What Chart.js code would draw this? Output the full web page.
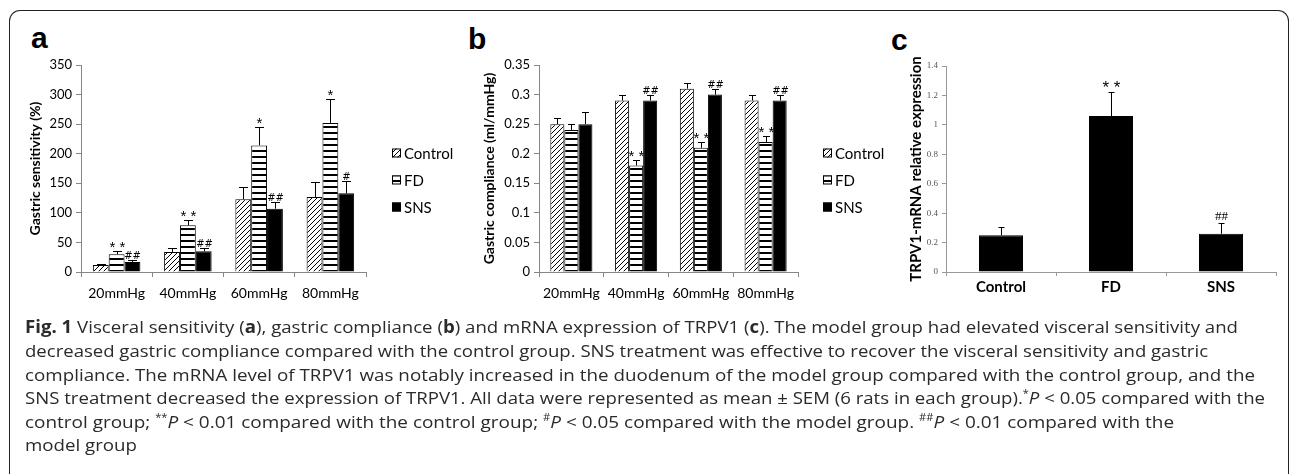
<!DOCTYPE html>
<html>
<head>
<meta charset="utf-8">
<script src="https://cdn.jsdelivr.net/npm/chart.js@4.4.0/dist/chart.umd.min.js"></script>
<style>
  html, body { margin: 0; padding: 0; background: #fff; }
  body { width: 1290px; height: 474px; position: relative; overflow: hidden; font-family: Lato, sans-serif; }
  #frame { position: absolute; left: 9px; top: 10px; width: 1280px; height: 520px; border: 1.5px solid #222; border-bottom: none; border-radius: 11px 11px 0 0; box-sizing: border-box; }
  canvas { position: absolute; top: 0; }
  .lbl { position: absolute; font: bold 30px "Liberation Sans", Arial, sans-serif; line-height: 30px; color: #000; }
  .cap { position: absolute; left: 25px; white-space: nowrap; font: 17px "Open Sans", sans-serif; line-height: 24px; color: #2a2a2a; transform-origin: 0 50%; }
  .cap sup { font-size: 10px; vertical-align: 0; position: relative; top: -7px; }
</style>
</head>
<body>
<div id="frame"></div>
<div class="lbl" style="left:31px;top:23px">a</div>
<div class="lbl" style="left:468px;top:24px">b</div>
<div class="lbl" style="left:891px;top:25px">c</div>

<canvas id="chartA" width="470" height="320" style="left:0"></canvas>
<canvas id="chartB" width="430" height="320" style="left:470px"></canvas>
<canvas id="chartC" width="390" height="320" style="left:900px"></canvas>

<div class="cap" data-w="1213" style="top:315px"><b>Fig. 1</b> Visceral sensitivity (<b>a</b>), gastric compliance (<b>b</b>) and mRNA expression of TRPV1 (<b>c</b>). The model group had elevated visceral sensitivity and</div>
<div class="cap" data-w="1183" style="top:339px">decreased gastric compliance compared with the control group. SNS treatment was effective to recover the visceral sensitivity and gastric</div>
<div class="cap" data-w="1230" style="top:363px">compliance. The mRNA level of TRPV1 was notably increased in the duodenum of the model group compared with the control group, and the</div>
<div class="cap" data-w="1240" style="top:386px">SNS treatment decreased the expression of TRPV1. All data were represented as mean ± SEM (6 rats in each group).<sup>*</sup><i>P</i> &lt; 0.05 compared with the</div>
<div class="cap" data-w="1149" style="top:410px">control group; <sup>**</sup><i>P</i> &lt; 0.01 compared with the control group; <sup>#</sup><i>P</i> &lt; 0.05 compared with the model group. <sup>##</sup><i>P</i> &lt; 0.01 compared with the</div>
<div class="cap" data-w="112" style="top:433px">model group</div>

<script>
// categories
const pressures = ['20mmHg', '40mmHg', '60mmHg', '80mmHg'];
const groups = ['Control', 'FD', 'SNS'];

// a: gastric sensitivity (%), mean and SEM
const sensCtrl = [12, 34, 123, 127];
const sensFd = [30, 79, 214, 252];
const sensSns = [17, 35, 107, 133];
const sensCtrlSem = [2, 6, 21, 25];
const sensFdSem = [5, 9, 31, 41];
const sensSnsSem = [3, 6, 12, 21];
const sensFdMarks = ['**', '**', '*', '*'];
const sensSnsMarks = ['##', '##', '##', '#'];

// b: gastric compliance (ml/mmHg)
const compCtrl = [0.25, 0.29, 0.31, 0.29];
const compFd = [0.24, 0.18, 0.21, 0.22];
const compSns = [0.25, 0.29, 0.30, 0.29];
const compCtrlSem = [0.01, 0.01, 0.01, 0.01];
const compFdSem = [0.01, 0.01, 0.01, 0.01];
const compSnsSem = [0.02, 0.01, 0.01, 0.01];
const compFdMarks = ['', '**', '**', '**'];
const compSnsMarks = ['', '##', '##', '##'];

// c: TRPV1 mRNA relative expression
const trpv1 = [0.25, 1.06, 0.26];
const trpv1Sem = [0.055, 0.165, 0.075];
const trpv1Marks = ['', '**', '##'];

const AXIS = '#868686';

// fill patterns
const makePattern = (kind) => {
  const c = document.createElement('canvas');
  const s = kind === 'diag' ? 5 : 6;
  c.width = s; c.height = s;
  const g = c.getContext('2d');
  g.fillStyle = '#fff';
  g.fillRect(0, 0, s, s);
  if (kind === 'diag') {
    g.strokeStyle = '#000';
    g.lineWidth = 1;
    g.beginPath();
    g.moveTo(-1, s + 1); g.lineTo(s + 1, -1);
    g.moveTo(-2, 2); g.lineTo(2, -2);
    g.moveTo(s - 2, s + 2); g.lineTo(s + 2, s - 2);
    g.stroke();
  } else {
    g.fillStyle = '#000';
    g.fillRect(0, 0, s, 2);
  }
  return g.createPattern(c, 'repeat');
};
const diagFill = makePattern('diag');
const stripeFill = makePattern('stripe');

// error bars (upper only) + significance marks
const errorBars = {
  id: 'errorBars',
  afterDatasetsDraw(chart, args, opts) {
    const { ctx } = chart;
    const yScale = chart.scales.y;
    chart.data.datasets.forEach((ds, i) => {
      const meta = chart.getDatasetMeta(i);
      meta.data.forEach((bar, j) => {
        const top = Math.round(yScale.getPixelForValue(ds.data[j] + ds.sem[j])) + 0.5;
        const x = Math.round(bar.x) + 0.5;
        ctx.save();
        ctx.strokeStyle = '#000';
        ctx.lineWidth = 1;
        ctx.beginPath();
        ctx.moveTo(x, bar.y);
        ctx.lineTo(x, top);
        ctx.moveTo(x - opts.cap, top);
        ctx.lineTo(x + opts.cap, top);
        ctx.stroke();
        const m = ds.marks && ds.marks[j];
        if (m) {
          ctx.fillStyle = '#000';
          ctx.textAlign = 'center';
          ctx.textBaseline = 'alphabetic';
          const star = m.includes('*');
          ctx.font = star ? opts.starFont : opts.hashFont;
          ctx.fillText(star ? m.split('').join(' ') : m, x, top - (star ? opts.starGap : opts.hashGap));
        }
        ctx.restore();
      });
    });
  }
};

// legend at the right of the plot
const sideLegend = {
  id: 'sideLegend',
  afterDraw(chart, args, opts) {
    if (!opts.ys) return;
    const { ctx } = chart;
    chart.data.datasets.forEach((ds, i) => {
      const yy = opts.ys[i];
      ctx.save();
      ctx.fillStyle = ds.backgroundColor;
      ctx.fillRect(opts.x, yy - 4.5, 9, 9);
      ctx.strokeStyle = '#000';
      ctx.lineWidth = 1;
      ctx.strokeRect(opts.x + 0.5, yy - 4, 8, 8);
      ctx.fillStyle = '#000';
      ctx.font = '15px Lato';
      ctx.textBaseline = 'middle';
      ctx.fillText(ds.label, opts.x + 12, yy + 1);
      ctx.restore();
    });
  }
};

const groupedChart = (id, opt) => new Chart(document.getElementById(id), {
  type: 'bar',
  data: {
    labels: pressures,
    datasets: [
      { label: groups[0], data: opt.ctrl, sem: opt.ctrlSem, backgroundColor: diagFill },
      { label: groups[1], data: opt.fd, sem: opt.fdSem, marks: opt.fdMarks, backgroundColor: stripeFill },
      { label: groups[2], data: opt.sns, sem: opt.snsSem, marks: opt.snsMarks, backgroundColor: '#000' }
    ].map(d => Object.assign(d, { borderColor: '#000', borderWidth: 1, categoryPercentage: opt.catPct, barPercentage: 1 }))
  },
  options: {
    responsive: false,
    animation: false,
    devicePixelRatio: 1,
    layout: { padding: { left: 0, top: 65, right: opt.padRight, bottom: 0 } },
    plugins: {
      legend: { display: false },
      tooltip: { enabled: false },
      errorBars: { cap: opt.cap, starGap: 0, hashGap: 2, starFont: '15px "Liberation Sans"', hashFont: 'italic 11px "DejaVu Sans Condensed", "DejaVu Sans"' },
      sideLegend: { x: opt.legendX, ys: [153, 180, 207] }
    },
    scales: {
      x: {
        grid: { offset: true, drawOnChartArea: false, tickLength: 5, color: AXIS },
        border: { color: AXIS },
        ticks: { font: { family: 'Lato', size: 14 }, color: '#000', padding: 8 },
        afterFit: s => { s.height = 48; }
      },
      y: {
        min: 0, max: opt.max,
        ticks: { stepSize: opt.step, font: { family: 'Lato', size: 13 }, color: '#000', padding: 4,
          callback: v => String(+v.toFixed(2)) },
        grid: { drawOnChartArea: false, tickLength: 5, color: AXIS },
        border: { color: AXIS },
        title: { display: true, text: opt.title, color: '#000',
          font: { family: 'Lato', size: opt.titleSize, weight: 'bold' }, padding: { top: opt.titlePad, bottom: 0 } },
        afterFit: s => { s.width = opt.axisW; }
      }
    }
  },
  plugins: [errorBars, sideLegend]
});

groupedChart('chartA', {
  ctrl: sensCtrl, fd: sensFd, sns: sensSns,
  ctrlSem: sensCtrlSem, fdSem: sensFdSem, snsSem: sensSnsSem,
  fdMarks: sensFdMarks, snsMarks: sensSnsMarks,
  max: 350, step: 50, title: 'Gastric sensitivity (%)', titleSize: 14, titlePad: 26.6,
  axisW: 81, padRight: 104, catPct: 0.667, cap: 4.5, legendX: 392
});

groupedChart('chartB', {
  ctrl: compCtrl, fd: compFd, sns: compSns,
  ctrlSem: compCtrlSem, fdSem: compFdSem, snsSem: compSnsSem,
  fdMarks: compFdMarks, snsMarks: compSnsMarks,
  max: 0.35, step: 0.05, title: 'Gastric compliance (ml/mmHg)', titleSize: 14, titlePad: 10.6,
  axisW: 69, padRight: 102, catPct: 0.65, cap: 3.5, legendX: 353
});

new Chart(document.getElementById('chartC'), {
  type: 'bar',
  data: {
    labels: groups,
    datasets: [{ label: 'TRPV1', data: trpv1, sem: trpv1Sem, marks: trpv1Marks,
      backgroundColor: '#000', borderColor: '#000', borderWidth: 1, categoryPercentage: 0.4, barPercentage: 1 }]
  },
  options: {
    responsive: false,
    animation: false,
    devicePixelRatio: 1,
    layout: { padding: { left: 0, top: 66, right: 14, bottom: 0 } },
    plugins: {
      legend: { display: false },
      tooltip: { enabled: false },
      errorBars: { cap: 3, starGap: 0, hashGap: 4, starFont: '17px "Liberation Sans"', hashFont: '13px "Liberation Serif"' },
      sideLegend: {}
    },
    scales: {
      x: {
        grid: { offset: true, drawOnChartArea: false, tickLength: 4, color: '#999' },
        border: { color: '#999' },
        ticks: { font: { family: 'Lato', size: 15, weight: 'bold' }, color: '#000', padding: 2 },
        afterFit: s => { s.height = 48; }
      },
      y: {
        min: 0, max: 1.4,
        ticks: { stepSize: 0.2, font: { family: 'Liberation Serif', size: 9 }, color: '#555', padding: 4,
          callback: v => String(+v.toFixed(1)) },
        grid: { drawOnChartArea: false, tickLength: 4, color: '#999' },
        border: { color: '#999' },
        title: { display: true, text: 'TRPV1-mRNA relative expression', color: '#000',
          font: { family: 'Lato', size: 15, weight: 'bold' }, padding: { top: 7, bottom: 0 } },
        afterFit: s => { s.width = 46; }
      }
    }
  },
  plugins: [errorBars, sideLegend]
});

// fit caption lines to the reference line lengths
document.querySelectorAll('.cap').forEach(el => {
  const w = el.getBoundingClientRect().width;
  el.style.transform = 'scaleX(' + (Number(el.dataset.w) / w).toFixed(4) + ')';
});
</script>
</body>
</html>
